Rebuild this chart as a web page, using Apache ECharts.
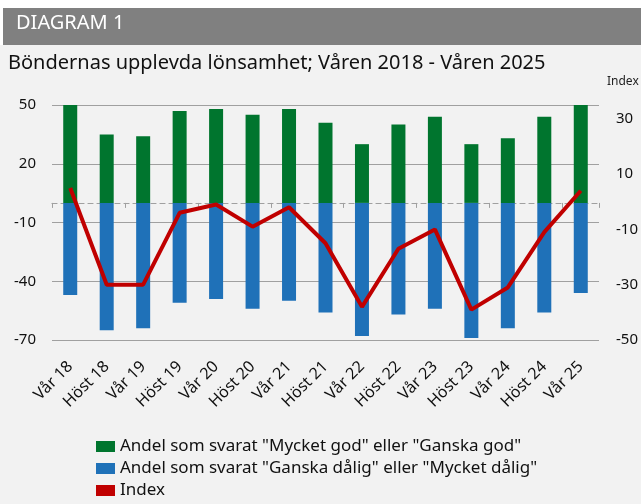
<!DOCTYPE html>
<html>
<head>
<meta charset="utf-8">
<script src="https://cdn.jsdelivr.net/npm/echarts@6/dist/echarts.min.js"></script>
<style>
  html, body { margin: 0; padding: 0; background: #fff; }
  #chart { width: 641px; height: 504px; }
</style>
</head>
<body>
<div id="chart"></div>
<script>
const categories = ['Vår 18', 'Höst 18', 'Vår 19', 'Höst 19', 'Vår 20', 'Höst 20', 'Vår 21', 'Höst 21',
  'Vår 22', 'Höst 22', 'Vår 23', 'Höst 23', 'Vår 24', 'Höst 24', 'Vår 25'];
const goodShare = [50, 35, 34, 47, 48, 45, 48, 41, 30, 40, 44, 30, 33, 44, 50];
const badShare = [-47, -65, -64, -51, -49, -54, -50, -56, -68, -57, -54, -69, -64, -56, -46];
const indexValues = [5, -30, -30, -4, -1, -9, -2, -15, -38, -17, -10, -39, -31, -11, 4];
const leftTicks = [-70, -40, -10, 20, 50];
const rightTicks = [-50, -30, -10, 10, 30];

const FONT = '"Noto Sans", "Open Sans", sans-serif';
const chart = echarts.init(document.getElementById('chart'));

const option = {
  backgroundColor: '#fff',
  animation: false,
  textStyle: { fontFamily: FONT },
  graphic: [
    { type: 'rect', left: 0, top: 45, shape: { width: 641, height: 459 }, style: { fill: '#f2f2f2' }, z: -10 },
    { type: 'rect', left: 3, top: 8, shape: { width: 638, height: 37 }, style: { fill: '#808080' }, z: -5 },
    { type: 'text', left: 16, top: 13, style: { text: 'DIAGRAM 1', fill: '#fff', font: '20px ' + FONT } },
    { type: 'text', left: 8, top: 53, style: { text: 'Böndernas upplevda lönsamhet; Våren 2018 - Våren 2025', fill: '#111', font: '20px ' + FONT } },
    { type: 'text', left: 607, top: 76, style: { text: 'Index', fill: '#222', font: '12px ' + FONT } }
  ],
  legend: {
    orient: 'vertical',
    left: 91,
    top: 433,
    itemWidth: 19,
    itemHeight: 11,
    itemGap: 5,
    icon: 'rect',
    textStyle: { fontSize: 17, color: '#111', fontFamily: FONT },
    data: [
      'Andel som svarat "Mycket god" eller "Ganska god"',
      'Andel som svarat "Ganska dålig" eller "Mycket dålig"',
      'Index'
    ]
  },
  grid: { left: 52, right: 42, top: 105, bottom: 164 },
  xAxis: [
    {
      type: 'category',
      data: categories,
      axisLine: { show: false, onZero: false },
      axisTick: { show: false },
      axisLabel: { rotate: 45, interval: 0, fontSize: 16, color: '#111', margin: 24 }
    },
    {
      type: 'category',
      data: categories,
      position: 'top',
      axisLine: { show: true, onZero: true, lineStyle: { color: '#a0a0a0', type: [5, 4], width: 1.2 } },
      axisTick: { show: true, inside: true, length: 5, lineStyle: { color: '#a0a0a0', width: 1 } },
      axisLabel: { show: false }
    }
  ],
  yAxis: [
    {
      type: 'value',
      min: -70,
      max: 50,
      interval: 30,
      axisLine: { show: false },
      axisTick: { show: false },
      axisLabel: {
        fontSize: 15, color: '#111', margin: 16,
        formatter: v => (leftTicks.includes(v) ? String(v) : '')
      },
      splitLine: { lineStyle: { color: '#a0a0a0', width: 1.2 } }
    },
    {
      type: 'value',
      min: -50,
      max: 35,
      interval: 20,
      axisLine: { show: false },
      axisTick: { show: false },
      axisLabel: {
        fontSize: 15, color: '#111', margin: 17,
        formatter: v => (rightTicks.includes(v) ? String(v) : '')
      },
      splitLine: { show: false }
    }
  ],
  series: [
    {
      name: 'Andel som svarat "Mycket god" eller "Ganska god"',
      type: 'bar',
      stack: 'share',
      barWidth: 14,
      itemStyle: { color: '#00752e' },
      data: goodShare
    },
    {
      name: 'Andel som svarat "Ganska dålig" eller "Mycket dålig"',
      type: 'bar',
      stack: 'share',
      barWidth: 14,
      itemStyle: { color: '#1f71b8' },
      data: badShare
    },
    {
      name: 'Index',
      type: 'line',
      yAxisIndex: 1,
      symbol: 'none',
      lineStyle: { color: '#c00000', width: 4 },
      itemStyle: { color: '#c00000' },
      z: 5,
      data: indexValues
    }
  ]
};

chart.setOption(option);
</script>
</body>
</html>
